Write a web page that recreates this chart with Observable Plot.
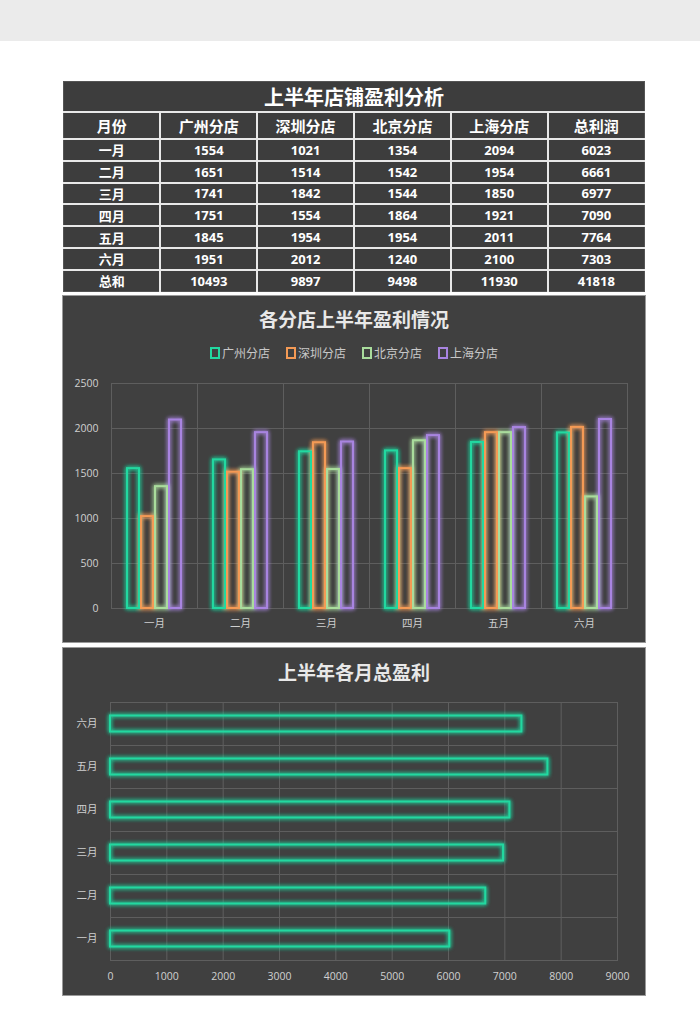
<!DOCTYPE html>
<html>
<head>
<meta charset="utf-8">
<script src="https://cdn.jsdelivr.net/npm/d3@7"></script>
<script src="https://cdn.jsdelivr.net/npm/@observablehq/plot@0.6"></script>
<style>
  html, body { margin: 0; padding: 0; }
  body { width: 700px; height: 1030px; position: relative; overflow: hidden; background: #ffffff;
         font-family: "Open Sans", "Noto Sans CJK SC", sans-serif; }
  #band { position: absolute; left: 0; top: 0; width: 700px; height: 41px; background: #ebebeb; }
  #tbl { position: absolute; left: 63px; top: 81px; width: 582px; border-collapse: collapse; table-layout: fixed;
         background: #3d3d3d; color: #ffffff; }
  #tbl td { border: 2px solid #e8e8e8; text-align: center; padding: 0; font-weight: bold; white-space: nowrap;
            font-family: "Open Sans", "Noto Sans CJK SC", sans-serif; }
  #tbl tr.title td { height: 28px; font-size: 20px; font-family: "Noto Sans CJK SC", sans-serif; border-top: 1px solid #555; border-left: 1px solid #555; border-right: 1px solid #555; }
  #tbl tr.head td { height: 25px; font-size: 15px; font-family: "Noto Sans CJK SC", sans-serif; }
  #tbl tr.row td { height: 19.8px; font-size: 13px; }
  #tbl tr.row td.lab { font-family: "Noto Sans CJK SC", sans-serif; font-size: 13px; }
  #tbl td.first { border-left: 1px solid #555; }
  #tbl td.last { border-right: 1px solid #555; }
  #tbl tr.bottom td { border-bottom: 1px solid #555; }
  .panel { position: absolute; left: 63px; width: 582px; background: #404040; outline: 1px solid #9a9a9a; }
  .ptitle { position: absolute; left: 0; width: 100%; text-align: center; color: #e8e8e8; font-weight: bold;
            font-size: 19px; line-height: 24px; font-family: "Noto Sans CJK SC", sans-serif; }
  .legend { position: absolute; left: 0; width: 100%; display: flex; justify-content: center; gap: 16px;
            color: #c8c8c8; font-size: 12px; line-height: 14px; font-family: "Noto Sans CJK SC", sans-serif; }
  .legend span.item { display: flex; align-items: center; }
  .legend span.sw { display: inline-block; width: 6px; height: 8px; border: 2px solid; margin-right: 2px; box-sizing: content-box; }
  .plotwrap { position: absolute; left: 0; }
</style>
</head>
<body>
<div id="band"></div>
<table id="tbl"></table>
<div id="c1" class="panel" style="top:296px;height:346px;">
  <div class="ptitle" style="top:11px;">各分店上半年盈利情况</div>
  <div class="legend" id="legend1" style="top:50px;"></div>
  <div class="plotwrap" id="plot1" style="top:74px;"></div>
</div>
<div id="c2" class="panel" style="top:648px;height:347px;">
  <div class="ptitle" style="top:12px;">上半年各月总盈利</div>
  <div class="plotwrap" id="plot2" style="top:42px;"></div>
</div>
<script>
// ---- data ----
const tableTitle = "上半年店铺盈利分析";
const headers = ["月份", "广州分店", "深圳分店", "北京分店", "上海分店", "总利润"];
const months = ["一月", "二月", "三月", "四月", "五月", "六月"];
const stores = ["广州分店", "深圳分店", "北京分店", "上海分店"];
const guangzhou = [1554, 1651, 1741, 1751, 1845, 1951];
const shenzhen  = [1021, 1514, 1842, 1554, 1954, 2012];
const beijing   = [1354, 1542, 1544, 1864, 1954, 1240];
const shanghai  = [2094, 1954, 1850, 1921, 2011, 2100];
const monthTotals = [6023, 6661, 6977, 7090, 7764, 7303];
const sumLabel = "总和";
const storeSums = [10493, 9897, 9498, 11930];
const grandTotal = 41818;
const yTicks = [0, 500, 1000, 1500, 2000, 2500];
const xTicks = [0, 1000, 2000, 3000, 4000, 5000, 6000, 7000, 8000, 9000];
const storeColors = ["#22d8a0", "#f49a55", "#a9dc9c", "#a884e0"];
const totalColor = "#22d8a0";
const gridColor = "#5e5e5e";

const series = [guangzhou, shenzhen, beijing, shanghai];

// ---- table ----
const tbl = document.getElementById("tbl");
let html = `<colgroup>${headers.map(() => "<col>").join("")}</colgroup>`;
html += `<tr class="title"><td colspan="6">${tableTitle}</td></tr>`;
html += `<tr class="head">${headers.map((h, i) => `<td class="${i === 0 ? "first" : i === 5 ? "last" : ""}">${h}</td>`).join("")}</tr>`;
months.forEach((m, i) => {
  const vals = [guangzhou[i], shenzhen[i], beijing[i], shanghai[i], monthTotals[i]];
  html += `<tr class="row"><td class="lab first">${m}</td>${vals.map((v, j) => `<td class="${j === 4 ? "last" : ""}">${v}</td>`).join("")}</tr>`;
});
const sums = [...storeSums, grandTotal];
html += `<tr class="row bottom"><td class="lab first">${sumLabel}</td>${sums.map((v, j) => `<td class="${j === 4 ? "last" : ""}">${v}</td>`).join("")}</tr>`;
tbl.innerHTML = html;

// ---- legend ----
const lg = document.getElementById("legend1");
stores.forEach((s, i) => {
  const it = document.createElement("span");
  it.className = "item";
  it.innerHTML = `<span class="sw" style="border-color:${storeColors[i]}"></span>${s}`;
  lg.appendChild(it);
});

function addGlow(svg, id, std) {
  const s = d3.select(svg);
  s.insert("defs", ":first-child").html(
    `<filter id="${id}" x="-60%" y="-60%" width="220%" height="220%">
       <feGaussianBlur in="SourceGraphic" stdDeviation="${std}" result="b"/>
       <feMerge><feMergeNode in="b"/><feMergeNode in="b"/><feMergeNode in="SourceGraphic"/></feMerge>
     </filter>`);
  s.selectAll('g[aria-label="bar"]').attr("filter", `url(#${id})`);
}

const plotStyle = { background: "transparent", color: "#d0d0d0", fontSize: "10.5px",
  fontFamily: '"Open Sans", "Noto Sans CJK SC", sans-serif', overflow: "visible" };

// ---- chart 1 ----
const long = months.flatMap((m, i) => stores.map((s, j) => ({ month: m, store: s, value: series[j][i] })));
const p1 = Plot.plot({
  width: 582, height: 272,
  marginLeft: 47, marginRight: 17, marginTop: 13, marginBottom: 34,
  style: plotStyle,
  facet: { data: long, x: "month" },
  fx: { domain: months, padding: 0, label: null, axis: "bottom", tickSize: 0, tickPadding: 11 },
  x: { domain: stores, paddingInner: 0.15, paddingOuter: 1.05, axis: null },
  y: { domain: [0, 2500], ticks: yTicks, tickFormat: "d", label: null, tickSize: 0, tickPadding: 13 },
  color: { domain: stores, range: storeColors },
  marks: [
    Plot.ruleY(yTicks, { stroke: gridColor }),
    Plot.frame({ stroke: gridColor }),
    Plot.barY(long, { x: "store", y: "value", stroke: "store", fill: "none", strokeWidth: 2 })
  ]
});
document.getElementById("plot1").appendChild(p1);
addGlow(p1, "glow1", 2.2);

// ---- chart 2 ----
const totalsData = months.map((m, i) => ({ month: m, total: monthTotals[i] }));
const p2 = Plot.plot({
  width: 582, height: 305,
  marginLeft: 47, marginRight: 28, marginTop: 11, marginBottom: 35,
  style: plotStyle,
  facet: { data: totalsData, y: "month" },
  fy: { domain: months.slice().reverse(), padding: 0, label: null, axis: "left", tickSize: 0, tickPadding: 13 },
  x: { domain: [0, 9000], ticks: xTicks, tickFormat: "d", label: null, tickSize: 0, tickPadding: 12 },
  marks: [
    Plot.ruleX(xTicks, { stroke: gridColor }),
    Plot.frame({ stroke: gridColor }),
    Plot.barX(totalsData, { x: "total", stroke: totalColor, fill: "none", strokeWidth: 2, insetTop: 13.5, insetBottom: 13.5 })
  ]
});
document.getElementById("plot2").appendChild(p2);
addGlow(p2, "glow2", 2.2);
</script>
</body>
</html>
